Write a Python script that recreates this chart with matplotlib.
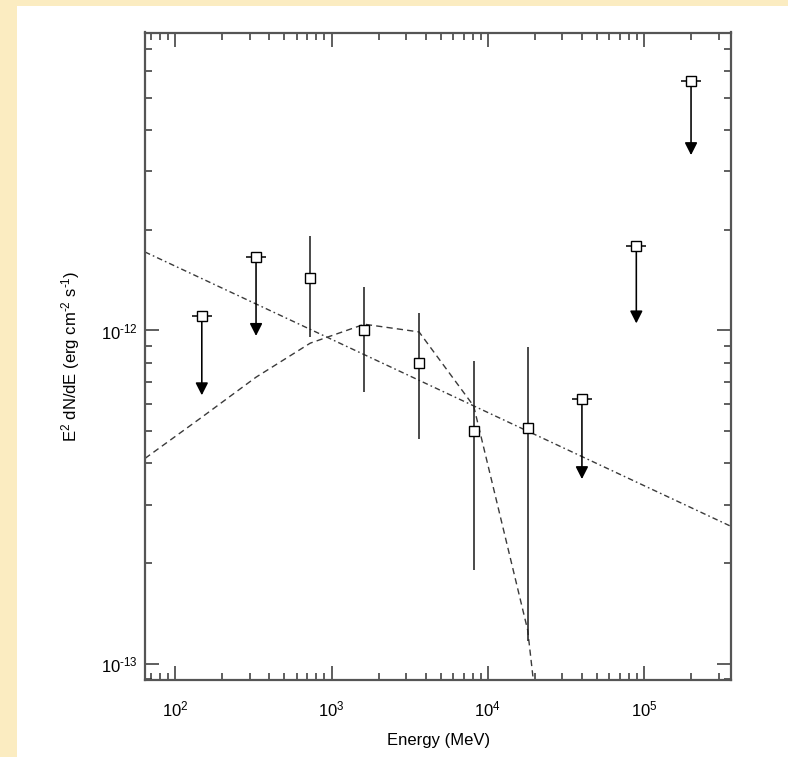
import matplotlib
matplotlib.use("Agg")
import matplotlib.pyplot as plt
from matplotlib.patches import Rectangle
from matplotlib.ticker import LogLocator, NullFormatter, FuncFormatter
import numpy as np

plt.rcParams["font.family"] = ["Liberation Sans", "DejaVu Sans"]
plt.rcParams["mathtext.fontset"] = "custom"
plt.rcParams["mathtext.rm"] = "Liberation Sans"
plt.rcParams["mathtext.it"] = "Liberation Sans"
plt.rcParams["mathtext.bf"] = "Liberation Sans"
plt.rcParams["axes.unicode_minus"] = False

# ==============================================================================
# detected points (energy in MeV, E^2 dN/dE in erg cm^-2 s^-1)
det_energy = [731, 1623, 3630, 8120, 17990]
det_flux = [1.436e-12, 1.0e-12, 7.99e-13, 4.99e-13, 5.08e-13]
det_hi = [1.92e-12, 1.35e-12, 1.13e-12, 8.07e-13, 8.95e-13]
det_lo = [9.57e-13, 6.53e-13, 4.71e-13, 1.91e-13, 1.17e-13]

# upper limits and where their arrows end
ul_energy = [148, 329, 39990, 89100, 199500]
ul_flux = [1.106e-12, 1.66e-12, 6.23e-13, 1.787e-12, 5.61e-12]
ul_tip = [6.39e-13, 9.63e-13, 3.58e-13, 1.05e-12, 3.36e-12]

# power law model (dash-dot)
pl_energy = [64.1, 3.61e5]
pl_flux = [1.72e-12, 2.58e-13]

# curved model (dashed)
cm_energy = [64.1, 148, 329, 731, 1623, 3630, 8120, 17990, 39990]
cm_flux = [4.13e-13, 5.49e-13, 7.24e-13, 9.16e-13, 1.044e-12, 9.90e-13,
           5.93e-13, 1.26e-13, 4.5e-15]

x_lim = (64.1, 3.61e5)
y_lim = (8.93e-14, 7.84e-12)

x_label = "Energy (MeV)"
y_label = r"E$^{2}$ dN/dE (erg cm$^{\text{-}2}$ s$^{\text{-}1}$)"
# ==============================================================================
def make_label(lims):
    def decade_label(v, pos):
        if v < lims[0] or v > lims[1]:
            return ""
        n = int(round(np.log10(v)))
        s = str(abs(n))
        if n < 0:
            s = r"\text{-}" + s
        return r"$\mathdefault{10^{%s}}$" % s
    return decade_label

fig = plt.figure(figsize=(7.88, 7.57), dpi=100)
fig.patch.set_facecolor("#fbecc1")
fig.patches.append(Rectangle((17 / 788, 0), 1, 751 / 757, transform=fig.transFigure,
                             facecolor="white", edgecolor="none", zorder=-10))

ax = fig.add_axes([145 / 788, 77 / 757, 586.3 / 788, 647.5 / 757])
ax.set_xscale("log")
ax.set_yscale("log")
ax.set_xlim(*x_lim)
ax.set_ylim(*y_lim)

ax.plot(pl_energy, pl_flux, color="#3a3a3a", lw=1.0,
        dashes=(4, 2.2, 1.2, 2.2), zorder=2)
ax.plot(cm_energy, cm_flux, color="#3a3a3a", lw=1.0,
        dashes=(4.5, 3), zorder=2)

ax.errorbar(det_energy, det_flux,
            yerr=[[f - l for f, l in zip(det_flux, det_lo)],
                  [h - f for f, h in zip(det_flux, det_hi)]],
            fmt="none", ecolor="#222222", elinewidth=1.15, capsize=0, zorder=3)
ax.plot(det_energy, det_flux, "s", ms=7.0, mfc="white", mec="black",
        mew=1.0, zorder=5)

for e, f, t in zip(ul_energy, ul_flux, ul_tip):
    ax.annotate("", xy=(e, t), xytext=(e, f),
                arrowprops=dict(arrowstyle="-|>,head_length=0.75,head_width=0.38",
                                color="black", lw=1.15, shrinkA=0, shrinkB=0,
                                mutation_scale=10),
                zorder=3)
ax.plot(ul_energy, ul_flux, "_", ms=15, mec="black", mew=1.1, zorder=4)
ax.plot(ul_energy, ul_flux, "s", ms=6.5, mfc="white", mec="black",
        mew=1.0, zorder=5)

for side in ax.spines.values():
    side.set_color("#555555")
    side.set_linewidth(1.6)

ax.xaxis.set_major_locator(LogLocator(base=10, numticks=20))
ax.xaxis.set_minor_locator(LogLocator(base=10, subs=range(2, 10), numticks=50))
ax.yaxis.set_major_locator(LogLocator(base=10, numticks=20))
ax.yaxis.set_minor_locator(LogLocator(base=10, subs=range(2, 10), numticks=50))
ax.xaxis.set_major_formatter(FuncFormatter(make_label(x_lim)))
ax.yaxis.set_major_formatter(FuncFormatter(make_label(y_lim)))
ax.xaxis.set_minor_formatter(NullFormatter())
ax.yaxis.set_minor_formatter(NullFormatter())

ax.tick_params(which="both", direction="in", top=True, right=True,
               color="#333333", width=1.1, labelsize=12)
ax.tick_params(which="major", length=10)
ax.tick_params(which="minor", length=5)
ax.tick_params(axis="x", which="major", pad=14)
ax.tick_params(axis="y", which="major", pad=5)

ax.set_xlabel(x_label, fontsize=12, labelpad=10)
ax.set_ylabel(y_label, fontsize=12, labelpad=14)

plt.savefig("out.png", dpi=100, facecolor=fig.get_facecolor())
# ==============================================================================
